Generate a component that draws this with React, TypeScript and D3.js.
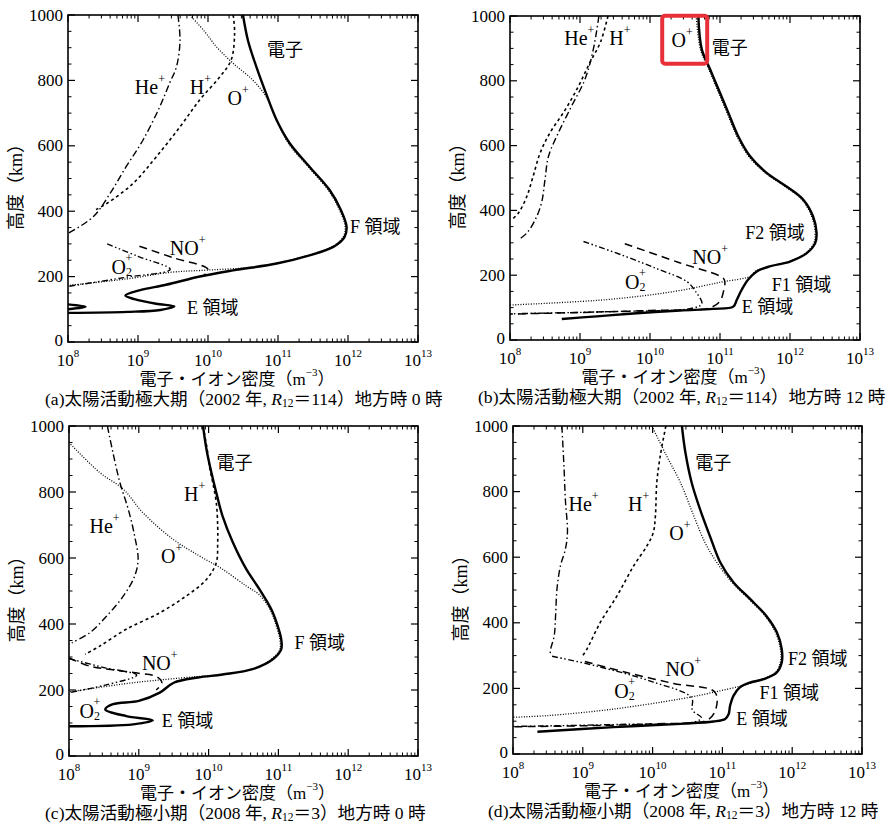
import * as d3 from "d3";

// each point: [log10 of density (m^-3), altitude (km)]
type Pt = [number, number];

const DECADES = [8, 9, 10, 11, 12, 13];
const ALT_TICKS = [0, 200, 400, 600, 800, 1000];

// (a) solar maximum, local time 0
const aElectron: Pt[] = [
  [10.5, 1000], [10.57, 923], [10.69, 842], [10.83, 760], [10.98, 679], [11.17, 607],
  [11.45, 536], [11.74, 464], [11.9, 403], [11.98, 352], [11.95, 321], [11.79, 291],
  [11.45, 265], [10.98, 240], [10.36, 219], [9.9, 201], [9.4, 175], [9.02, 158],
  [8.82, 142], [8.95, 131], [9.26, 117], [9.52, 109], [9.32, 98], [8.85, 92], [8.0, 89],
];
const aElectronLow: Pt[] = [[8.0, 115], [8.25, 108], [8.0, 100]];
const aOplus: Pt[] = [
  [9.74, 1000], [9.95, 950], [10.12, 903], [10.36, 852], [10.64, 801], [10.83, 750],
  [10.97, 682], [11.15, 607], [11.43, 536], [11.72, 464], [11.88, 403], [11.96, 352],
  [11.93, 321], [11.77, 291], [11.43, 265], [10.96, 240], [10.6, 228], [10.0, 220],
  [9.46, 213], [8.84, 193], [8.0, 173],
];
const aHplus: Pt[] = [
  [10.36, 1000], [10.38, 944], [10.33, 862], [10.17, 811], [9.88, 740], [9.6, 658],
  [9.26, 566], [8.93, 485], [8.55, 423], [8.4, 405],
];
const aHeplus: Pt[] = [
  [9.57, 1000], [9.6, 923], [9.55, 842], [9.45, 791], [9.31, 719], [9.07, 617],
  [8.83, 536], [8.6, 454], [8.36, 383], [8.0, 332],
];
const aNOplus: Pt[] = [[9.02, 293], [9.5, 258], [10.0, 222], [9.92, 200]];
const aO2plus: Pt[] = [[8.56, 300], [9.0, 262], [9.46, 222], [8.8, 197], [8.0, 170]];

// (b) solar maximum, local time 12
const bElectron: Pt[] = [
  [10.69, 1000], [10.74, 897], [10.86, 835], [10.98, 773], [11.12, 701], [11.26, 629],
  [11.43, 567], [11.67, 515], [11.95, 474], [12.19, 433], [12.33, 381], [12.38, 330],
  [12.36, 299], [12.24, 268], [12.0, 242], [11.71, 227], [11.52, 211], [11.4, 186],
  [11.31, 155], [11.24, 124], [11.19, 103], [10.9, 96], [10.43, 91], [9.71, 81],
  [9.24, 73], [8.74, 65],
];
const bOplus: Pt[] = [
  [10.66, 1000], [10.72, 897], [10.84, 835], [10.96, 773], [11.1, 701], [11.24, 629],
  [11.41, 567], [11.65, 515], [11.93, 474], [12.17, 433], [12.31, 381], [12.36, 330],
  [12.34, 299], [12.22, 268], [11.98, 242], [11.7, 227], [11.5, 212], [11.45, 198],
  [11.0, 178], [10.35, 150], [9.4, 125], [8.0, 108],
];
const bHplus: Pt[] = [
  [9.4, 1000], [9.29, 918], [9.14, 856], [8.98, 784], [8.79, 711], [8.57, 639],
  [8.43, 577], [8.33, 505], [8.24, 443], [8.12, 392], [8.02, 370],
];
const bHeplus: Pt[] = [
  [9.27, 1000], [9.19, 897], [9.07, 804], [8.88, 722], [8.69, 639], [8.55, 567],
  [8.5, 495], [8.45, 423], [8.36, 371], [8.24, 330], [8.12, 309],
];
const bNOplus: Pt[] = [
  [9.64, 297], [10.4, 240], [11.05, 190], [11.07, 176], [11.05, 150], [11.0, 120],
  [10.85, 99], [10.0, 91], [9.0, 85], [8.0, 80],
];
const bO2plus: Pt[] = [
  [9.05, 304], [9.6, 262], [10.1, 220], [10.53, 180], [10.65, 150], [10.74, 112],
  [10.6, 98], [9.5, 88], [8.0, 81],
];

// (c) solar minimum, local time 0
const cElectron: Pt[] = [
  [9.92, 1000], [9.97, 929], [10.04, 859], [10.11, 798], [10.2, 727], [10.35, 646],
  [10.54, 566], [10.73, 505], [10.9, 444], [10.99, 394], [11.04, 354], [11.04, 323],
  [10.92, 293], [10.63, 263], [10.2, 247], [9.85, 238], [9.5, 222], [9.3, 192],
  [9.0, 167], [8.63, 157], [8.52, 141], [8.82, 121], [9.2, 108], [8.92, 96], [8.0, 90],
];
const cOplus: Pt[] = [
  [8.0, 950], [8.44, 859], [8.78, 808], [9.06, 737], [9.49, 657], [9.87, 606],
  [10.2, 566], [10.54, 515], [10.72, 490], [10.88, 444], [10.97, 394], [11.02, 354],
  [11.02, 323], [10.9, 293], [10.62, 263], [10.2, 247], [9.8, 240], [9.0, 224],
  [8.5, 210], [8.0, 194],
];
const cHplus: Pt[] = [
  [9.92, 1000], [9.98, 929], [10.01, 879], [10.06, 828], [10.11, 768], [10.13, 697],
  [10.13, 646], [10.11, 586], [9.97, 535], [9.68, 485], [9.3, 434], [8.82, 384],
  [8.44, 333], [8.23, 308],
];
const cHeplus: Pt[] = [
  [8.55, 1000], [8.63, 919], [8.73, 828], [8.85, 747], [8.94, 667], [8.99, 596],
  [8.94, 545], [8.78, 485], [8.54, 424], [8.3, 374], [8.04, 343],
];
const cNOplus: Pt[] = [
  [8.0, 297], [8.3, 272], [8.6, 262], [8.95, 252], [9.26, 240], [9.33, 222], [9.25, 200],
];
const cO2plus: Pt[] = [[8.0, 295], [8.5, 268], [8.97, 245], [8.5, 214], [8.0, 192]];

// (d) solar minimum, local time 12
const dElectron: Pt[] = [
  [10.42, 1000], [10.47, 919], [10.56, 827], [10.68, 746], [10.82, 665], [10.97, 584],
  [11.16, 523], [11.4, 472], [11.63, 421], [11.78, 371], [11.85, 320], [11.85, 279],
  [11.78, 249], [11.59, 228], [11.4, 218], [11.25, 203], [11.16, 178], [11.11, 147],
  [11.09, 122], [11.04, 107], [10.87, 99], [10.4, 92], [9.44, 82], [8.35, 68],
];
const dOplus: Pt[] = [
  [9.99, 1000], [10.2, 909], [10.4, 827], [10.59, 726], [10.75, 645], [10.92, 584],
  [11.13, 525], [11.38, 472], [11.61, 421], [11.76, 371], [11.83, 320], [11.83, 279],
  [11.76, 249], [11.57, 228], [11.38, 214], [10.87, 188], [10.4, 168], [9.44, 137],
  [8.49, 117], [8.0, 112],
];
const dHplus: Pt[] = [
  [10.19, 1000], [10.11, 909], [10.06, 827], [10.04, 726], [10.01, 675], [9.92, 635],
  [9.73, 574], [9.49, 482], [9.25, 401], [9.06, 320], [9.0, 300],
];
const dHeplus: Pt[] = [
  [8.7, 1000], [8.73, 878], [8.75, 777], [8.78, 675], [8.75, 624], [8.68, 574],
  [8.63, 503], [8.61, 421], [8.59, 360], [8.54, 320], [8.53, 299],
];
const dNOplus: Pt[] = [
  [9.03, 282], [9.6, 250], [10.3, 215], [10.89, 189], [10.91, 140], [10.79, 104],
  [10.0, 92], [9.0, 86], [8.0, 83],
];
const dO2plus: Pt[] = [
  [8.56, 298], [9.2, 268], [10.0, 220], [10.56, 171], [10.57, 134], [10.7, 110],
  [10.6, 98], [9.5, 90], [8.0, 84],
];

const SERIF = "'Liberation Serif', 'DejaVu Serif', serif";
const CJK = "'Liberation Serif', 'Noto Sans CJK JP', sans-serif";

const STYLE: Record<string, { w: number; dash?: string }> = {
  e: { w: 2.4 },
  he: { w: 1.4, dash: "7,3,1.5,3" },
  h: { w: 1.6, dash: "3,3" },
  o: { w: 1.3, dash: "1,1.6" },
  no: { w: 1.5, dash: "8,5" },
  o2: { w: 1.4, dash: "6,2.5,1.5,2.5,1.5,2.5" },
};

const PANELS = [
  {
    id: "a", x0: 68, x1: 418, y0: 15, y1: 342, capX: 45, eraText: "極大期", year: "2002", r: "114", lt: "0",
    series: [
      ["he", aHeplus], ["h", aHplus], ["o", aOplus], ["no", aNOplus], ["o2", aO2plus],
      ["e", aElectron], ["e", aElectronLow],
    ],
    labels: [
      { kind: "txt", text: "電子", at: [11.1, 893] },
      { kind: "he", at: [9.17, 780] },
      { kind: "h", at: [9.89, 780] },
      { kind: "o", at: [10.43, 746] },
      { kind: "txt", text: "F 領域", at: [12.03, 352], anchor: "start" },
      { kind: "no", at: [9.71, 287] },
      { kind: "o2", at: [8.77, 229] },
      { kind: "txt", text: "E 領域", at: [9.7, 104], anchor: "start" },
    ],
  },
  {
    id: "b", x0: 510, x1: 860, y0: 16, y1: 340, capX: 478, eraText: "極大期", year: "2002", r: "114", lt: "12",
    series: [
      ["he", bHeplus], ["h", bHplus], ["o", bOplus], ["no", bNOplus], ["o2", bO2plus],
      ["e", bElectron],
    ],
    labels: [
      { kind: "he", at: [8.99, 932] },
      { kind: "h", at: [9.57, 932] },
      { kind: "o", at: [10.46, 927], boxed: true },
      { kind: "txt", text: "電子", at: [11.14, 900] },
      { kind: "txt", text: "F2 領域", at: [11.36, 331], anchor: "start" },
      { kind: "no", at: [10.86, 257] },
      { kind: "o2", at: [9.79, 180] },
      { kind: "txt", text: "F1 領域", at: [11.74, 170], anchor: "start" },
      { kind: "txt", text: "E 領域", at: [11.31, 102], anchor: "start" },
    ],
  },
  {
    id: "c", x0: 69, x1: 418, y0: 426, y1: 756, capX: 45, eraText: "極小期", year: "2008", r: "3", lt: "0",
    series: [
      ["he", cHeplus], ["h", cHplus], ["o", cOplus], ["no", cNOplus], ["o2", cO2plus],
      ["e", cElectron],
    ],
    labels: [
      { kind: "txt", text: "電子", at: [10.37, 888] },
      { kind: "h", at: [9.8, 794] },
      { kind: "he", at: [8.51, 697] },
      { kind: "o", at: [9.47, 606] },
      { kind: "txt", text: "F 領域", at: [11.23, 342], anchor: "start" },
      { kind: "no", at: [9.3, 282] },
      { kind: "o2", at: [8.3, 136] },
      { kind: "txt", text: "E 領域", at: [9.33, 106], anchor: "start" },
    ],
  },
  {
    id: "d", x0: 513, x1: 862, y0: 426, y1: 754, capX: 488, eraText: "極小期", year: "2008", r: "3", lt: "12",
    series: [
      ["he", dHeplus], ["h", dHplus], ["o", dOplus], ["no", dNOplus], ["o2", dO2plus],
      ["e", dElectron],
    ],
    labels: [
      { kind: "txt", text: "電子", at: [10.87, 887] },
      { kind: "he", at: [9.01, 762] },
      { kind: "h", at: [9.8, 762] },
      { kind: "o", at: [10.39, 674] },
      { kind: "txt", text: "F2 領域", at: [11.94, 290], anchor: "start" },
      { kind: "no", at: [10.44, 259] },
      { kind: "o2", at: [9.6, 192] },
      { kind: "txt", text: "F1 領域", at: [11.53, 186], anchor: "start" },
      { kind: "txt", text: "E 領域", at: [11.2, 107], anchor: "start" },
    ],
  },
];

const IonLabel = ({ kind, x, y, text, anchor }: any) => {
  const base = { x, y, fontSize: 20, dominantBaseline: "central", textAnchor: anchor || "middle" } as any;
  if (kind === "txt") {
    return <text {...base} fontFamily={CJK} fontSize={18}>{text}</text>;
  }
  if (kind === "o2") {
    return (
      <text {...base} fontFamily={SERIF}>
        O<tspan fontSize={12} dy={5}>2</tspan>
        <tspan fontSize={12} dx={-6.5} dy={-14}>+</tspan>
      </text>
    );
  }
  const name = { he: "He", h: "H", o: "O", no: "NO" }[kind as "he"];
  return (
    <text {...base} fontFamily={SERIF}>
      {name}<tspan fontSize={12} dy={-8}>+</tspan>
    </text>
  );
};

const Panel = ({ p }: any) => {
  const x = d3.scaleLog().domain([1e8, 1e13]).range([p.x0, p.x1]);
  const y = d3.scaleLinear().domain([0, 1000]).range([p.y1, p.y0]);
  const line = d3
    .line<Pt>()
    .x((d) => x(10 ** d[0]))
    .y((d) => y(d[1]))
    .curve(d3.curveCatmullRom.alpha(0.5));

  const minorX: number[] = [];
  DECADES.slice(0, -1).forEach((n) => {
    for (let k = 2; k <= 9; k++) minorX.push(k * 10 ** n);
  });
  const minorY = d3.range(50, 1000, 50).filter((v) => v % 200 !== 0);

  const midX = (p.x0 + p.x1) / 2;
  const midY = (p.y0 + p.y1) / 2;

  return (
    <g>
      {/* frame ticks */}
      {DECADES.map((n) => (
        <g key={"mx" + n} stroke="#000" strokeWidth={1.2}>
          <line x1={x(10 ** n)} x2={x(10 ** n)} y1={p.y1} y2={p.y1 - 7} />
          <line x1={x(10 ** n)} x2={x(10 ** n)} y1={p.y0} y2={p.y0 + 7} />
        </g>
      ))}
      {minorX.map((v, i) => (
        <g key={"nx" + i} stroke="#000" strokeWidth={1}>
          <line x1={x(v)} x2={x(v)} y1={p.y1} y2={p.y1 - 3.5} />
          <line x1={x(v)} x2={x(v)} y1={p.y0} y2={p.y0 + 3.5} />
        </g>
      ))}
      {ALT_TICKS.map((v) => (
        <g key={"my" + v} stroke="#000" strokeWidth={1.2}>
          <line x1={p.x0} x2={p.x0 + 7} y1={y(v)} y2={y(v)} />
          <line x1={p.x1} x2={p.x1 - 7} y1={y(v)} y2={y(v)} />
        </g>
      ))}
      {minorY.map((v) => (
        <g key={"ny" + v} stroke="#000" strokeWidth={1}>
          <line x1={p.x0} x2={p.x0 + 3.5} y1={y(v)} y2={y(v)} />
          <line x1={p.x1} x2={p.x1 - 3.5} y1={y(v)} y2={y(v)} />
        </g>
      ))}
      <rect x={p.x0} y={p.y0} width={p.x1 - p.x0} height={p.y1 - p.y0} fill="none" stroke="#000" strokeWidth={1.6} />

      {/* tick labels */}
      {ALT_TICKS.map((v) => (
        <text key={"ly" + v} x={p.x0 - 5} y={y(v) - (v === 0 ? 2 : 0)} textAnchor="end" dominantBaseline="central" fontFamily={SERIF} fontSize={17}>
          {v}
        </text>
      ))}
      {DECADES.map((n) => (
        <text key={"lx" + n} x={x(10 ** n)} y={p.y1 + 18} textAnchor="middle" dominantBaseline="central" fontFamily={SERIF} fontSize={17}>
          10<tspan fontSize={11} dy={-7}>{n}</tspan>
        </text>
      ))}

      {/* axis titles and caption */}
      <text x={midX - 6} y={p.y1 + 37} textAnchor="middle" dominantBaseline="central" fontFamily={CJK} fontSize={17}>
        電子・イオン密度（m<tspan fontSize={11} dy={-7}>−3</tspan><tspan dy={7}>）</tspan>
      </text>
      <text
        transform={`translate(${p.x0 - 52},${midY + 4}) rotate(-90)`}
        textAnchor="middle"
        dominantBaseline="central"
        fontFamily={CJK}
        fontSize={18}
      >
        高度（km）
      </text>
      <text x={p.capX} y={p.y1 + 57} dominantBaseline="central" fontFamily={CJK} fontSize={17.6}>
        ({p.id})太陽活動{p.eraText}（{p.year} 年, <tspan fontStyle="italic">R</tspan>
        <tspan fontSize={11.5} dy={4}>12</tspan>
        <tspan dy={-4}>＝{p.r}）地方時 {p.lt} 時</tspan>
      </text>

      {/* density profiles */}
      {p.series.map(([kind, pts]: [string, Pt[]], i: number) => (
        <path
          key={"s" + i}
          d={line(pts) || ""}
          fill="none"
          stroke="#000"
          strokeWidth={STYLE[kind].w}
          strokeDasharray={STYLE[kind].dash}
          strokeLinejoin="round"
        />
      ))}

      {/* labels */}
      {p.labels.map((l: any, i: number) => {
        const lx = x(10 ** l.at[0]);
        const ly = y(l.at[1]);
        return (
          <g key={"l" + i}>
            <IonLabel kind={l.kind} x={lx} y={ly} text={l.text} anchor={l.anchor} />
            {l.boxed && (
              <rect x={lx - 20} y={ly - 24} width={45} height={48} rx={3} fill="none" stroke="#e8303a" strokeWidth={4} />
            )}
          </g>
        );
      })}
    </g>
  );
};

export default function App() {
  return (
    <div style={{ position: "absolute", left: 0, top: 0 }}>
      <svg width={894} height={832} style={{ display: "block", background: "#fff" }}>
        {PANELS.map((p) => (
          <Panel key={p.id} p={p} />
        ))}
      </svg>
    </div>
  );
}
